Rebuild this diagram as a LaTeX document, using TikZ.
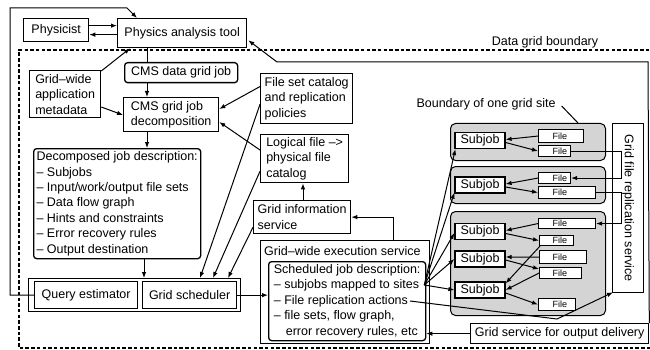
\documentclass[tikz,border=0pt]{standalone}
\usepackage{fontspec}
\setmainfont{Liberation Sans}
\usepackage{graphicx}
\usetikzlibrary{arrows.meta,calc}
\begin{document}
\begin{tikzpicture}[x=1pt,y=-1pt,
  font=\fontsize{12.5}{15.4}\selectfont,
  box/.style={draw, line width=1.3pt, fill=white, inner sep=0pt, anchor=north west, align=left},
  rbox/.style={box, rounded corners=3pt},
  site/.style={draw, line width=1pt, fill=black!17, rounded corners=5pt, anchor=north west, inner sep=0pt, minimum width=155pt},
  jobbox/.style={box, align=center, anchor=center, minimum width=50pt, minimum height=16pt, line width=1.2pt},
  filebox/.style={draw, line width=1.1pt, fill=white, anchor=north west, inner sep=0pt, align=left, font=\fontsize{9}{9}\selectfont, text width=#1},
  conn/.style={line width=1pt},
  arr/.style={conn, -{Latex[length=6pt,width=4.5pt]}},
  bound/.style={line width=1.6pt, dash pattern=on 3.5pt off 2.2pt},
]
\useasboundingbox (0,0) rectangle (650,350);

% data grid boundary
\draw[bound] (655,50) -- (19,50) -- (19,348) -- (655,348);
\node[inner sep=0pt] (dglbl) at (545,42) {Data grid boundary};

% grid sites
\node[site, minimum height=37pt] (site1) at (450,123) {};
\node[site, minimum height=37pt] (site2) at (450,166) {};
\node[site, minimum height=104pt] (site3) at (450,211) {};
\node[inner sep=0pt] (sitelbl) at (486,104) {Boundary of one grid site};

% user side
\node[box, minimum width=65pt, minimum height=23pt, align=center] (phys) at (23,18) {Physicist};
\node[box, minimum width=129pt, minimum height=29pt, align=center] (pat) at (117,18) {Physics analysis tool};
\node[rbox, minimum width=113pt, minimum height=20pt, align=center] (cmsjob) at (124,62) {CMS data grid job};
\node[box, minimum width=71pt, minimum height=47pt] (meta) at (29,70) {Grid–wide\\application\\metadata};
\node[box, minimum width=95pt, minimum height=34pt] (decomp) at (123,97) {CMS grid job\\decomposition};
\node[rbox, minimum width=167pt, minimum height=110pt] (djd) at (33,148)
  {Decomposed job description:\\– Subjobs\\– Input/work/output file sets\\– Data flow graph\\– Hints and constraints\\– Error recovery rules\\– Output destination};

% estimator and scheduler
\node[box, minimum width=212pt, minimum height=33pt] (qeo) at (28,278) {};
\node[box, minimum width=103pt, minimum height=27pt, align=center] (qe) at (34,281) {Query estimator};
\node[box, minimum width=94pt, minimum height=27pt, align=center] (gs) at (142,281) {Grid scheduler};

% catalogs and services
\node[box, minimum width=92pt, minimum height=50pt] (fsc) at (260,73) {File set catalog\\and replication\\policies};
\node[box, minimum width=88pt, minimum height=48pt] (lfc) at (260,134) {Logical file –>\\physical file\\catalog};
\node[box, minimum width=97pt, minimum height=33pt] (gis) at (253,200) {Grid information\\service};

% execution service
\node[box, minimum width=169pt, minimum height=103pt] (gwes) at (260,240) {};
\node[anchor=west, inner sep=0pt] (gwestitle) at (264,251) {Grid–wide execution service};
\node[rbox, minimum width=157pt, minimum height=79pt] (sjd) at (268,261)
  {Scheduled job description:\\– subjobs mapped to sites\\– File replication actions\\– file sets, flow graph,\\\hspace*{12pt}error recovery rules, etc};

% subjobs
\node[jobbox] (sj1) at (480,140.5) {Subjob};
\node[jobbox] (sj2) at (480,185) {Subjob};
\node[jobbox] (sj3) at (480,231.5) {Subjob};
\node[jobbox] (sj4) at (480,259) {Subjob};
\node[jobbox] (sj5) at (480,290) {Subjob};

% files
\node[filebox=45pt, minimum height=13pt] (f1a) at (538,129) {\hspace*{14pt}File};
\node[filebox=32pt, minimum height=11pt] (f1b) at (538,145) {\hspace*{14pt}File};
\node[filebox=32pt, minimum height=11pt] (f2a) at (538,172) {\hspace*{14pt}File};
\node[filebox=57pt, minimum height=12pt] (f2b) at (538,186) {\hspace*{14pt}File};
\node[filebox=57pt, minimum height=10pt] (f3a) at (538,218) {\hspace*{14pt}File};
\node[filebox=34pt, minimum height=10pt] (f3b) at (539,235) {\hspace*{13pt}File};
\node[filebox=47pt, minimum height=13pt] (f3c) at (539,250) {\hspace*{13pt}File};
\node[filebox=42pt, minimum height=11pt] (f3d) at (539,267) {\hspace*{13pt}File};
\node[filebox=37pt, minimum height=12pt] (f3e) at (538,298) {\hspace*{14pt}File};

% replication and output services
\node[box, minimum width=31pt, minimum height=169pt, align=center] (repl) at (612,123) {\rotatebox{-90}{Grid file replication service}};
\node[box, minimum width=178pt, minimum height=20pt, align=center] (out) at (470,323) {Grid service for output delivery};

% helper points
\coordinate (loopcorner) at (10,8);
\coordinate (loopbend) at (127,8);
\coordinate (retcorner) at (648,62);
\coordinate (retbend) at (277,62);
\coordinate (fan) at ($(sjd.north east)+(-2,24)$);
\coordinate (fra) at ($(sjd.north west)+(142,40)$);
\coordinate (junc) at (557,319);

% user interaction
\draw[arr] ($(phys.east)+(0,-4.5)$) -- ($(pat.west)+(0,-7.5)$);
\draw[arr] ($(pat.west)+(0,1.5)$) -- ($(phys.east)+(0,4.5)$);
\draw[arr] (qe.west) -| (loopcorner) -- (loopbend) -- ($(pat.north west)+(20,0)$);
\draw[conn] ($(pat.south west)+(30,0)$) -- ($(cmsjob.north west)+(23,0)$);
\draw[arr] ($(cmsjob.south west)+(23,0)$) -- ($(decomp.north west)+(24,0)$);
\draw[arr] ($(meta.north east)+(0,1)$) -- ($(pat.south west)+(13,0)$);
\draw[arr] ($(meta.north east)+(0,37)$) -- ($(decomp.north west)+(0,18)$);
\draw[arr] ($(decomp.south west)+(24,0)$) -- ($(djd.north west)+(114,0)$);
\draw[arr] ($(fsc.north west)+(1,13)$) -- ($(decomp.north east)+(0,12)$);
\draw[arr] ($(lfc.north west)+(0,16)$) -- ($(decomp.north east)+(0,25)$);
\draw[arr] ($(djd.south west)+(111,0)$) -- ($(qeo.north west)+(116,0)$);

% catalog queries by the scheduler
\draw[arr] ($(fsc.south west)+(0,-20)$) -- ($(qeo.north west)+(172,0)$);
\draw[arr] ($(lfc.south west)+(0,-12)$) -- ($(qeo.north west)+(185,0)$);
\draw[arr] ($(gis.south west)+(0,-7)$) -- ($(qeo.north west)+(200,0)$);

% scheduling and services
\draw[arr] (gs.east) -- (gs.east -| sjd.west);
\draw[arr] ($(gwes.north west)+(133,0)$) |- (gis.east);
\draw[arr] ($(gis.north west)+(50,0)$) -- ($(lfc.south west)+(43,0)$);

% subjobs mapped to sites
\draw[arr] (fan) -- ($(sj1.south west)+(1,0)$);
\draw[arr] (fan) -- ($(sj2.south west)+(0,-1)$);
\draw[arr] (fan) -- ($(sj3.west)+(0,1.5)$);
\draw[arr] (fan) -- (sj4.west);
\draw[arr] (fan) -- (sj5.west);

% file flows inside the sites
\draw[arr] (f1a.west) -- ($(sj1.east)+(0,-1)$);
\draw[arr] ($(sj1.east)+(0,2)$) -- (f1b.west);
\draw[arr] (f2a.west) -- ($(sj2.east)+(0,-1)$);
\draw[arr] ($(sj2.east)+(0,2)$) -- (f2b.west);
\draw[arr] (f3a.west) -- ($(sj3.east)+(0,-1)$);
\draw[arr] ($(sj3.east)+(0,2)$) -- (f3b.west);
\draw[arr] (f3c.west) -- ($(sj4.east)+(0,-2)$);
\draw[arr] ($(sj4.east)+(0,1)$) -- ($(f3d.north west)+(0,2)$);
\draw[arr] ($(f3b.south west)+(1,0)$) -- ($(sj5.north east)+(0,2)$);
\draw[arr] (f3d.west) -- (sj5.east);
\draw[arr] ($(sj5.east)+(0,3)$) -- (f3e.west);

% replication between sites
\draw[arr] (f1b.east) -- ++(50,0) |- (f2a.east);
\draw[arr] (f2b.east) -- ++(25,0) |- (f3a.east);
\draw[arr] (fra) -- (junc) -- ($(repl.south west)+(1,-1)$);

% output delivery
\draw[arr] (out.west) -- (out.west -| sjd.east);
\draw[arr] (out.north east) -- (retcorner) -- (retbend) -- ($(pat.south east)+(1,-8)$);

% site label pointer
\draw[conn] ($(sitelbl.east)+(6,2)$) -- ($(site1.north west)+(128,0)$);
\end{tikzpicture}
\end{document}
